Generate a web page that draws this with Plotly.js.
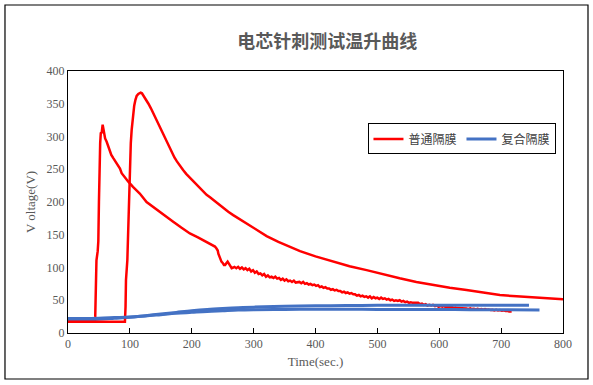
<!DOCTYPE html>
<html>
<head>
<meta charset="utf-8">
<script src="https://cdn.plot.ly/plotly-3.0.1.min.js"></script>
<style>html,body{margin:0;padding:0;background:#fff;}#chart{width:593px;height:385px;}</style>
</head>
<body>
<div id="chart"></div>
<script>
const seriesNames = ['普通隔膜', '复合隔膜'];
const chartTitle = '电芯针刺测试温升曲线';
const xTitle = 'Time(sec.)';
const yTitle = 'V oltage(V)';

// 普通隔膜 test 1
const red1T = [0,20,43,44,45,46,48,49,50,50.8,52,53,54.5,56,57.5,58.7,60,62.5,65,67.9,70,73.2,77,81.3,84,86.7,92,97.5,105,116,127,138,148.6,160,170,183,197,210,224,232,237.5,240,242,243,245,247,248,250,252,254,256,258,260,262,264.5,267,269,272,275,278,281,284,287,290,293,296,299,302,305,308,311,314,317,320,323,326,329,332,335,338,341,344,347,350,353,356,359,362,365,368,371,374,377,380,383,386,389,392,395,398,401,404,407,410,413,416,419,422,425,428,431,434,437,440,443,446,449,452,455,458,461,464,467,470,473,476,479,482,485,488,491,494,497,500,503,506,509,512,515,518,521,524,527,530,533,536,539,542,545,548,551,554,557,560,563,566,569,572,575,578,581,584,587,590,593,596,599,602,605,608,611,614,617,620,623,626,629,632,635,638,641,644,647,650,653,656,659,662,665,668,671,674,677,680,683,686,689,692,695,698,701,704,707,710,713,717];
const red1V = [17,17,17,25,80,111,125,140,200,250,290,305,306,318,310,302,297,292,285,279,272,267,262,256,251,244,237,231,223,213,200,192,185,177,170,161,152,146,139,135,132,129,126,121,116,113,109,107,104,104,106,109,106,102,99,100,101,99,101,98,100,97,99,96,98,94,96,92,94,90,91,88,90,86,88,85,86,84,86,83,84,81,83,80,82,79,80,78,80,77,78,78,76,78,75,76,74,75,73,74,72,73,70,71,69,70,68,68,66,67,65,66,64,64,62,63,61,62,60,61,59,59,57,58,56,57,55,56,54,56,53,55,53,54,52,54,52,53,51,52,50,51,49,50,49,50,48,49,47,48,46,47,46,46,45,46,44,45,43,44,42,43,42,43,41,42,40,41,40,41,39,40,39,40,38,39,38,38,37,38,37,37.5,36.5,37.5,36.5,37,36,37,36,36.5,35.5,36.5,35.5,36,35,35.5,34.5,35.5,34.5,35,34,34.5,33.5,34,33,33];

// 普通隔膜 test 2
const red2T = [0,50,92,93,93.7,95.9,97,97.5,98.7,100,101.5,102.9,104,105.5,107,109,111,113.6,115.5,117.4,119.5,121.7,124,127,130,134,138,141,145,148.6,152,156,160,164,168,172,176,181,186,191,197,202.5,208,213,219,224,230,235,243,251,259,267,280,290,305,321,340,358,375,400,428.6,455,482.6,510,536,563,590,617,644,671,698,725,751.7,775,800];
const red2V = [17,17,17,40,81,111,150,183,220,259,290,310,324,335,347,356,362,365,366.5,367,366,363,360,356,350,343,335,329,322,315,307,299,291,283,275,268,262,255,249,243,237,231,226,221,216,211,207,203,197,190,185,180,172,166,157,148,139,131.5,125,117,109,102,96,89,83.5,78,73,69,65.6,61.5,58,56,54.5,53,51.5];

// 复合隔膜 test 1
const blue1T = [0,25,50,75,100,125,150,175,200,225,250,275,300,350,400,450,500,550,600,650,700,745];
const blue1V = [20,20.5,21,22.5,24,26.5,29,31.5,34,36,37.5,38.7,39.5,40.8,41.5,42,42.2,42.3,42.4,42.5,42.5,42.5];

// 复合隔膜 test 2
const blue2T = [0,25,50,75,100,125,150,175,200,225,250,275,300,350,400,450,500,550,600,650,700,762];
const blue2V = [22,22,22.5,23.5,24.5,26,28,30,31.5,33,34,35,35.5,36,36.3,36.2,36,35.9,35.8,35.6,35.5,35.3];

const xTicks = [0,100,200,300,400,500,600,700,800];
const yTicks = [0,50,100,150,200,250,300,350,400];

const RED = '#FF0000', BLUE = '#4472C4';
const traces = [
  {x: red1T, y: red1V, name: seriesNames[0], legendgroup: 'a', mode: 'lines', line: {color: RED, width: 2.5}},
  {x: blue1T, y: blue1V, name: seriesNames[1], legendgroup: 'b', mode: 'lines', line: {color: BLUE, width: 3, shape: 'spline'}},
  {x: red2T, y: red2V, name: seriesNames[0], legendgroup: 'a', showlegend: false, mode: 'lines', line: {color: RED, width: 2.5}},
  {x: blue2T, y: blue2V, name: seriesNames[1], legendgroup: 'b', showlegend: false, mode: 'lines', line: {color: BLUE, width: 3, shape: 'spline'}}
];

const tickFont = {family: '"Liberation Serif", "Times New Roman", serif', size: 12, color: '#595959'};
const layout = {
  width: 593, height: 385,
  margin: {l: 68, r: 30, t: 71, b: 52},
  paper_bgcolor: '#fff', plot_bgcolor: '#fff',
  title: {text: chartTitle, x: 0.552, xref: 'container', xanchor: 'center', y: 0.892, yref: 'container', yanchor: 'middle',
          font: {family: '"Noto Sans CJK SC", sans-serif', size: 18, color: '#595959', weight: 'bold'}},
  xaxis: {range: [0, 800], tickvals: xTicks, ticktext: xTicks.map(String), showgrid: false, zeroline: false,
          showline: true, mirror: true, linecolor: '#000', linewidth: 1,
          ticks: 'inside', ticklen: 5, tickcolor: '#000', tickfont: tickFont,
          title: {text: xTitle, font: {family: '"Liberation Serif", serif', size: 13, color: '#595959'}, standoff: 6}},
  yaxis: {range: [0, 400], tickvals: yTicks, ticktext: yTicks.map(String), showgrid: false, zeroline: false,
          showline: true, mirror: true, linecolor: '#000', linewidth: 1,
          ticks: '', tickfont: tickFont,
          title: {text: yTitle, font: {family: '"Liberation Serif", serif', size: 13, color: '#595959'}, standoff: 8}},
  legend: {orientation: 'h', x: 0.607, y: 0.80, xanchor: 'left', yanchor: 'top',
           bordercolor: '#000', borderwidth: 1, bgcolor: '#fff',
           font: {family: '"Noto Sans CJK SC", sans-serif', size: 12, color: '#404040'}},
  shapes: [{type: 'rect', xref: 'paper', yref: 'paper', x0: -0.1273, x1: 1.0505, y0: -0.1756, y1: 1.2519,
            line: {color: '#000', width: 1.2}, fillcolor: 'rgba(0,0,0,0)'}],
  showlegend: true
};

Plotly.newPlot('chart', traces, layout, {displayModeBar: false, staticPlot: true});
</script>
</body>
</html>
